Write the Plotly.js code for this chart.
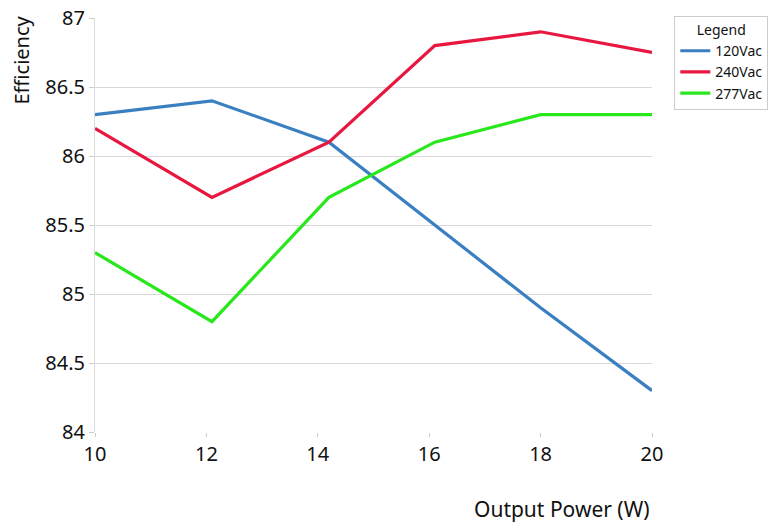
<!DOCTYPE html>
<html><head><meta charset="utf-8">
<script src="https://cdn.plot.ly/plotly-3.0.1.min.js"></script>
<style>html,body{margin:0;padding:0;background:#fff}</style>
</head><body><div id="chart" style="width:774px;height:527px"></div>
<script>
const outputPower = [10, 12.1, 14.2, 16.1, 18, 20];
const eff120 = [86.3, 86.4, 86.1, 85.5, 84.9, 84.3];
const eff240 = [86.2, 85.7, 86.1, 86.8, 86.9, 86.75];
const eff277 = [85.3, 84.8, 85.7, 86.1, 86.3, 86.3];
const seriesNames = ['120Vac', '240Vac', '277Vac'];
const seriesColors = ['#3a7fc1', '#e8173f', '#28e81c'];
const yTicks = [84, 84.5, 85, 85.5, 86, 86.5, 87];
const xTicks = [10, 12, 14, 16, 18, 20];

const font = "'Noto Sans', 'Open Sans', sans-serif";
const traces = [eff120, eff240, eff277].map((ys, i) => ({
  x: outputPower, y: ys, name: seriesNames[i], type: 'scatter', mode: 'lines',
  line: {color: seriesColors[i], width: 3.2}
}));

Plotly.newPlot('chart', traces, {
  width: 774, height: 527,
  margin: {l: 95, r: 122, t: 18, b: 95, autoexpand: false},
  paper_bgcolor: '#fff', plot_bgcolor: '#fff',
  font: {family: font, color: '#111'},
  xaxis: {range: [10, 20], tickvals: xTicks, ticktext: xTicks.map(String),
    showgrid: false, zeroline: false, showline: false,
    ticks: 'outside', ticklen: 4, tickcolor: '#ccc',
    tickfont: {size: 20, color: '#111'}},
  yaxis: {range: [84, 87], tickvals: yTicks, ticktext: yTicks.map(String),
    showgrid: true, gridcolor: '#d9d9d9', gridwidth: 1, zeroline: false,
    showline: true, linecolor: '#d9d9d9', linewidth: 1,
    ticks: 'outside', ticklen: 5, tickcolor: '#ccc',
    tickfont: {size: 20, color: '#111'}},
  legend: {x: 1.04, xref: 'paper', y: 1.005, yanchor: 'top', xanchor: 'left',
    bordercolor: '#ccc', borderwidth: 1, bgcolor: '#fff', itemwidth: 30,
    font: {size: 14, color: '#111'}, tracegroupgap: 0,
    title: {text: 'Legend', side: 'top center', font: {size: 14, color: '#111'}}},
  annotations: [
    {text: 'Output Power (W)', xref: 'paper', yref: 'paper',
     x: 1, y: 0, xanchor: 'right', yanchor: 'middle', yshift: -77,
     showarrow: false, font: {size: 21, color: '#111'}},
    {text: 'Efficiency', xref: 'paper', yref: 'paper', textangle: -90,
     x: 0, y: 1, xanchor: 'center', yanchor: 'top', xshift: -74, yshift: 4,
     showarrow: false, font: {size: 20, color: '#111'}}
  ]
}, {displayModeBar: false});
</script></body></html>
